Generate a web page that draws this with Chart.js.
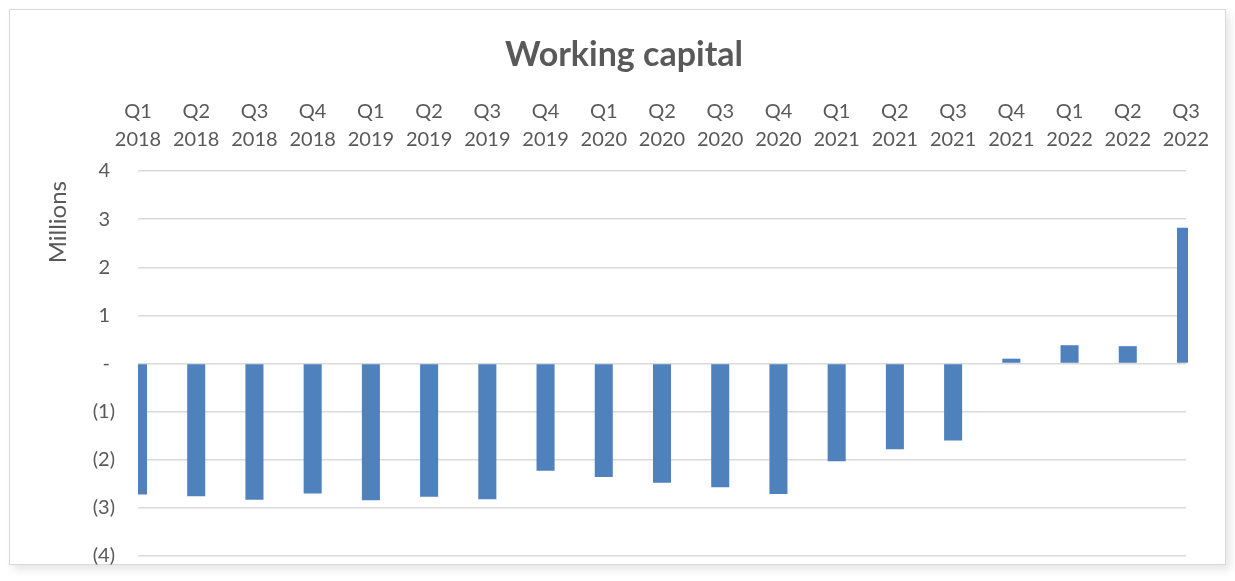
<!DOCTYPE html>
<html>
<head>
<meta charset="utf-8">
<script src="https://cdn.jsdelivr.net/npm/chart.js@4/dist/chart.umd.min.js"></script>
<style>
  html, body { margin: 0; padding: 0; background: #ffffff; }
  body { width: 1235px; height: 581px; position: relative; overflow: hidden; }
  #frame {
    position: absolute; left: 9px; top: 9px; width: 1215px; height: 554px;
    border: 1.5px solid #d9d9d9; background: #ffffff;
    box-shadow: 4px 5px 8px rgba(0,0,0,0.10);
  }
  #c { position: absolute; left: 0; top: 0; }
</style>
</head>
<body>
<div id="frame"></div>
<canvas id="c" width="1235" height="581"></canvas>
<script>
const quarters = ["Q1","Q2","Q3","Q4","Q1","Q2","Q3","Q4","Q1","Q2","Q3","Q4","Q1","Q2","Q3","Q4","Q1","Q2","Q3"];
const years = ["2018","2018","2018","2018","2019","2019","2019","2019","2020","2020","2020","2020","2021","2021","2021","2021","2022","2022","2022"];
const workingCapital = [-2.72,-2.76,-2.83,-2.70,-2.84,-2.77,-2.82,-2.23,-2.36,-2.48,-2.57,-2.71,-2.03,-1.78,-1.60,0.10,0.38,0.36,2.82];
const yTicks = [4,3,2,1,0,-1,-2,-3,-4];

const labels = quarters.map((q, i) => [q, years[i]]);
const FONT = "Lato, 'Open Sans', 'DejaVu Sans', sans-serif";
const GREY = "#595959";

function fmt(v) {
  if (v > 0) return v + "\u2005";
  if (v < 0) return "(" + Math.abs(v) + ")";
  return "-\u2005";
}

new Chart(document.getElementById("c"), {
  type: "bar",
  data: {
    labels: labels,
    datasets: [{
      label: "Working capital",
      data: workingCapital,
      backgroundColor: "#4f81bd",
      borderWidth: 0,
      categoryPercentage: 1,
      barPercentage: 0.31,
      clip: { left: 0, right: 2, top: false, bottom: false }
    }]
  },
  options: {
    responsive: false,
    devicePixelRatio: 1,
    animation: false,
    layout: { padding: { left: 62, right: 49, top: 0, bottom: 25 } },
    plugins: {
      legend: { display: false },
      tooltip: { enabled: false },
      title: {
        display: true,
        text: "Working capital",
        color: GREY,
        font: { family: FONT, size: 34, weight: "bold", lineHeight: 1.2 },
        padding: { top: 35, bottom: 0 }
      }
    },
    scales: {
      x: {
        position: "top",
        offset: false,
        grid: { display: false, drawTicks: false },
        border: { display: false },
        ticks: {
          color: GREY,
          font: { family: FONT, size: 20, lineHeight: 1.4 },
          padding: 17,
          maxRotation: 0,
          minRotation: 0,
          autoSkip: false
        },
        afterFit: (s) => { s.height = 95.2; }
      },
      y: {
        min: -4,
        max: 4,
        afterBuildTicks: (s) => { s.ticks = yTicks.map(v => ({ value: v })); },
        grid: { color: "#d9d9d9", lineWidth: 1.5, drawTicks: false },
        border: { display: false },
        ticks: {
          color: GREY,
          font: { family: FONT, size: 20 },
          padding: 23,
          callback: (v) => fmt(v)
        },
        title: {
          display: true,
          text: "Millions\u2006\u2005",
          align: "end",
          color: GREY,
          font: { family: FONT, size: 24, lineHeight: 1.2 },
          padding: { top: -18.4, bottom: 0 }
        },
        afterFit: (s) => { s.width = 76; s.paddingTop = 0; s.paddingBottom = 0; }
      }
    }
  }
});
</script>
</body>
</html>
